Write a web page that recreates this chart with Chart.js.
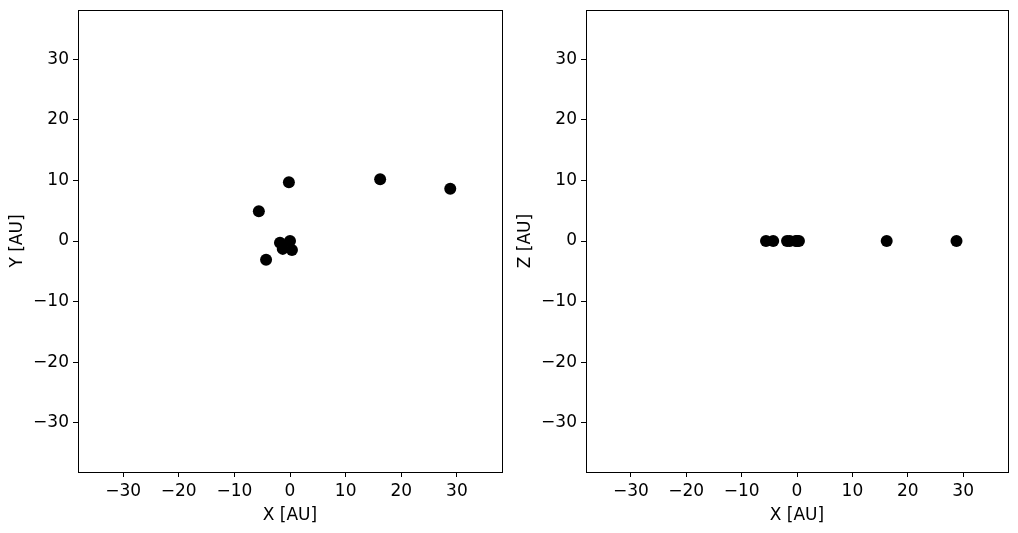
<!DOCTYPE html>
<html>
<head>
<meta charset="utf-8">
<script src="https://cdn.jsdelivr.net/npm/chart.js@4/dist/chart.umd.min.js"></script>
<style>
  body { margin: 0; background: #fff; }
  .box { position: absolute; top: 0; height: 533px; }
</style>
</head>
<body>
<div class="box" style="left:0;width:512px"><canvas id="xyChart"></canvas></div>
<div class="box" style="left:508px;width:510px"><canvas id="xzChart"></canvas></div>
<script>
// positions of the bodies, AU
const xs = [0, -1.8, -1.3, 0.35, -4.3, -5.6, -0.2, 16.2, 28.8];
const ys = [0, -0.3, -1.3, -1.5, -3.1, 4.9, 9.7, 10.2, 8.6];
const zs = [0, 0, 0, 0, 0, 0, 0, 0, 0];
const tickSteps = [-30, -20, -10, 0, 10, 20, 30];
const lim = 38.1;

Chart.defaults.font.family = 'DejaVu Sans';
Chart.defaults.font.size = 17;
Chart.defaults.color = '#000';

const frame = {
  id: 'frame',
  afterDraw(chart) {
    const a = chart.chartArea, c = chart.ctx;
    c.save();
    c.strokeStyle = '#000';
    c.lineWidth = 1;
    c.strokeRect(Math.round(a.left) + 0.5, Math.round(a.top) + 0.5,
      Math.round(a.right - a.left), Math.round(a.bottom - a.top));
    c.restore();
  }
};

function axis(title, fit, titlePad) {
  return {
    type: 'linear',
    min: -lim,
    max: lim,
    afterFit: fit,
    afterBuildTicks(s) { s.ticks = tickSteps.map(v => ({ value: v })); },
    ticks: {
      includeBounds: false,
      padding: 4,
      callback: v => v < 0 ? '\u2212' + Math.abs(v) : String(v)
    },
    grid: { drawOnChartArea: false, drawTicks: true, tickLength: 5, color: '#000' },
    border: { display: false },
    title: { display: true, text: title, padding: titlePad }
  };
}

function makeChart(id, yvals, ytitle) {
  const pts = xs.map((x, i) => ({ x: x, y: yvals[i] }));
  return new Chart(document.getElementById(id), {
    type: 'scatter',
    data: {
      datasets: [{
        data: pts,
        backgroundColor: '#000',
        borderColor: '#000',
        borderWidth: 0,
        pointRadius: 6,
        pointHoverRadius: 6
      }]
    },
    options: {
      responsive: true,
      maintainAspectRatio: false,
      animation: false,
      layout: { padding: { top: 10, right: 10, left: 0, bottom: 0 } },
      plugins: { legend: { display: false }, tooltip: { enabled: false } },
      scales: {
        x: axis('X [AU]', s => { s.height = 61; s.paddingLeft = 0; s.paddingRight = 0; }, { top: 2, bottom: 7 }),
        y: axis(ytitle, s => { s.width = 78; s.paddingTop = 0; s.paddingBottom = 0; }, { top: 7, bottom: 2 })
      }
    },
    plugins: [frame]
  });
}

makeChart('xyChart', ys, 'Y [AU]');
makeChart('xzChart', zs, 'Z [AU]');
</script>
</body>
</html>
